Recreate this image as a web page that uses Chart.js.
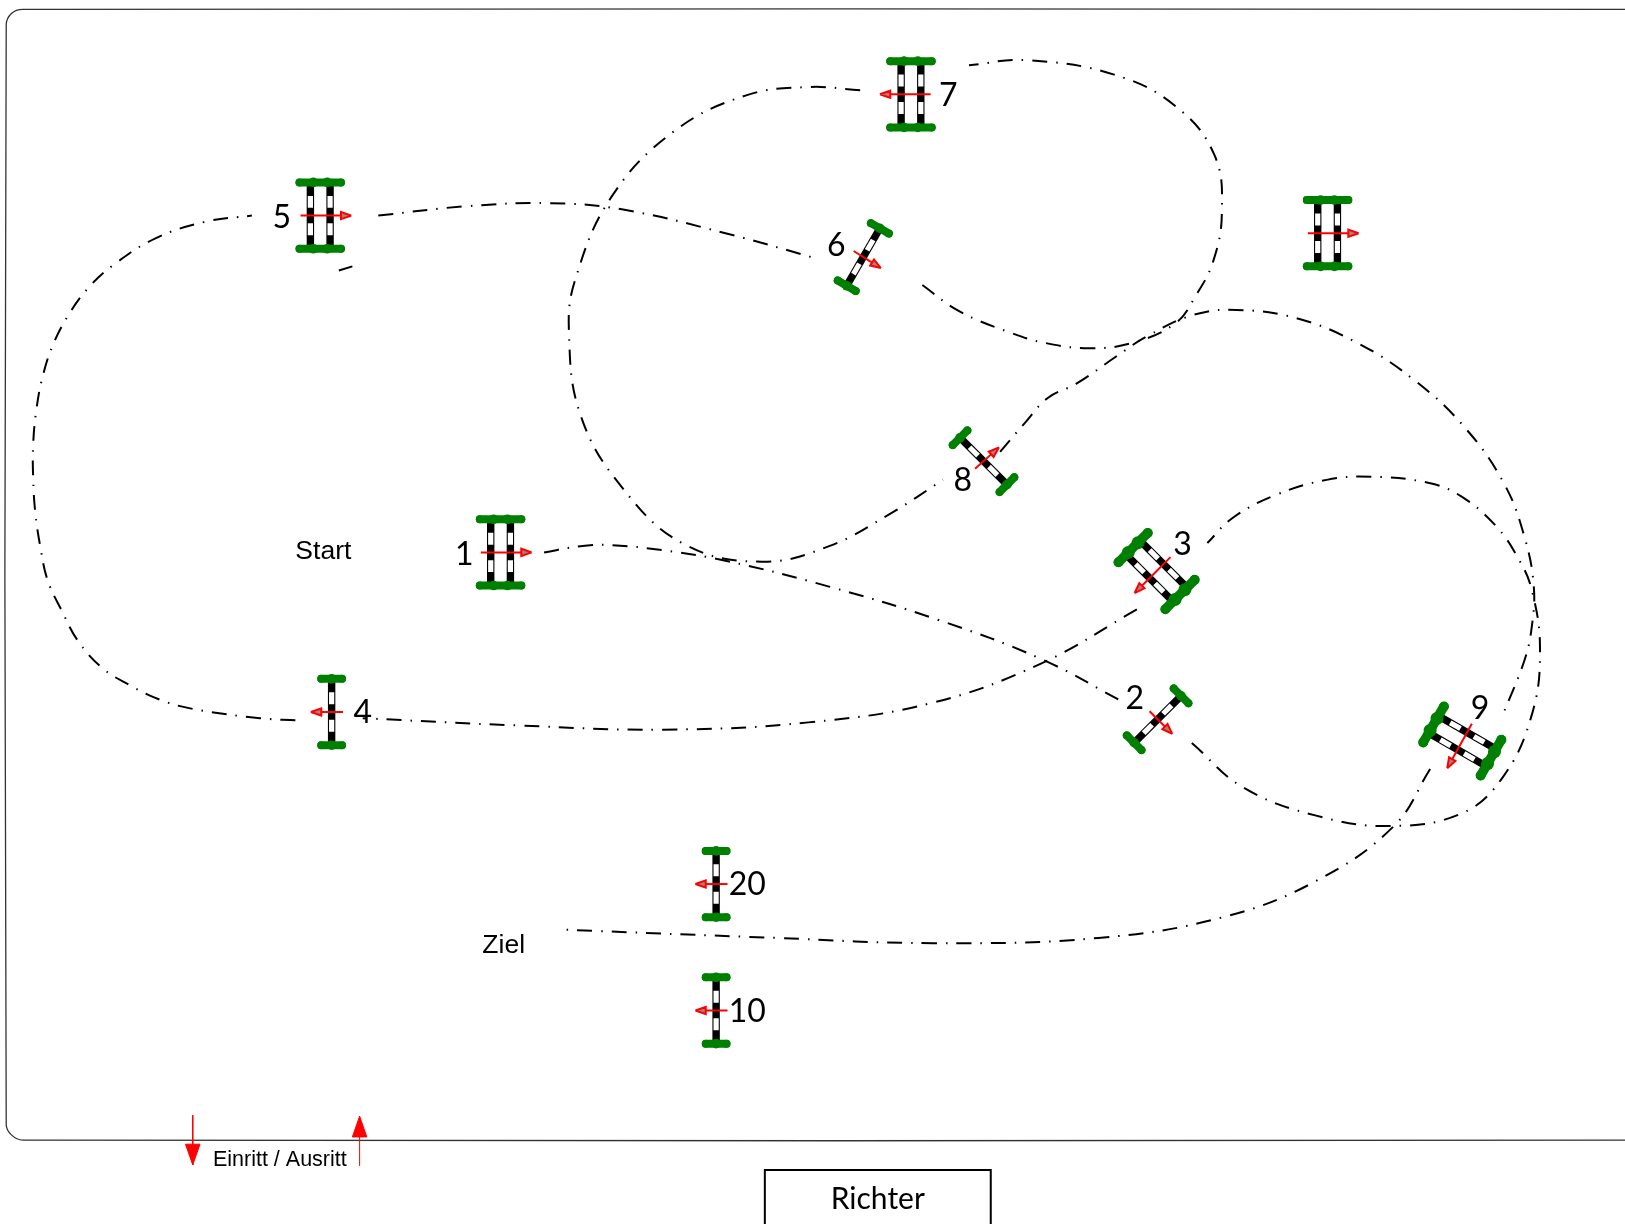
<!DOCTYPE html>
<html>
<head>
<meta charset="utf-8">
<title>Parcours</title>
<script src="https://cdn.jsdelivr.net/npm/chart.js@4"></script>
<style>
html, body { margin: 0; padding: 0; background: #fff; overflow: hidden; }
canvas { display: block; }
</style>
</head>
<body>
<canvas id="courseChart" width="1625" height="1224"></canvas>
<script>
// jumps
const jumpNames = ["1", "2", "3", "4", "5", "6", "7", "8", "9", "10", "20", ""];
const jumpX = [483, 1117, 1116, 320, 309, 833, 879, 949, 1411, 691, 691, 1281];
const jumpY = [533, 694, 551, 687, 208, 248, 91, 445, 715, 975, 853, 225];
const jumpRails = [2, 1, 2, 1, 2, 1, 2, 1, 2, 1, 1, 2];
const railAngle = [90, 135, 45, 90, 90, 120, 90, 45, 30, 90, 90, 90];
const arrowAngle = [0, 45, 135, 180, 0, 32, 180, -42, 119, 180, 180, 0];
const nameX = [448, 1095, 1141, 350, 272, 807, 915, 929, 1428, 721, 721];
const nameY = [535, 674, 526, 688, 210, 237, 92, 464, 684, 976, 854];

// route, one leg per jump
const leg1X = [525, 560, 590, 640, 700, 800, 905, 1005, 1085];
const leg1Y = [533, 527, 526, 531, 541, 566, 598, 636, 678];
const leg2X = [1150, 1200, 1270, 1340, 1410, 1450, 1478, 1486, 1478, 1464, 1443, 1410, 1379, 1323, 1280, 1230, 1189, 1165];
const leg2Y = [717, 760, 787, 797, 785, 750, 690, 627, 569, 537, 507, 479, 466, 460, 463, 478, 500, 524];
const leg3X = [1097, 1005, 900, 780, 640, 500, 350];
const leg3Y = [588, 640, 678, 697, 704, 700, 693];
const leg4X = [285, 251, 186, 154, 125, 98, 75, 60, 46, 39, 34, 32, 32, 35, 41, 51, 66, 85, 109, 150, 198, 243];
const leg4Y = [695, 693, 684, 675, 661, 644, 618, 590, 560, 528, 494, 461, 429, 396, 364, 333, 304, 278, 256, 230, 214, 208];
const leg5X = [365, 450, 530, 600, 700, 790];
const leg5Y = [208, 199, 196, 202, 225, 250];
const leg6X = [890, 925, 975, 1009, 1051, 1092, 1134, 1154, 1171, 1179, 1172, 1135, 1075, 990, 935];
const leg6Y = [275, 300, 321, 331, 336, 331, 312, 285, 251, 205, 150, 103, 72, 58, 63];
const leg7X = [830, 780, 720, 650, 590, 555, 549, 560, 600, 660, 735, 800, 860, 910];
const leg7Y = [87, 84, 92, 127, 190, 270, 320, 400, 470, 525, 542, 527, 495, 463];
const leg8X = [965, 989, 1011, 1039, 1077, 1106, 1151, 1193, 1251, 1310, 1365, 1413, 1451, 1471, 1480, 1478, 1471, 1450];
const leg8Y = [436, 408, 384, 370, 344, 325, 304, 299, 307, 331, 367, 412, 466, 518, 566, 605, 637, 690];
const leg9X = [1380, 1345, 1270, 1180, 1060, 900, 750, 543];
const leg9Y = [742, 797, 850, 885, 905, 910, 905, 897];
const strayX = [327, 340];
const strayY = [261, 257];

// arena outline and judge box
const frameX = [1600, 22, 11, 6, 6, 11, 22, 1600];
const frameY = [9, 9, 13, 24, 1085, 1095, 1100, 1100];
const judgeX = [738, 738, 956, 956];
const judgeY = [1190, 1129, 1129, 1190];

// gate arrows
const gateX = [186, 347];
const gateTailY = [1076, 1125];
const gateTipY = [1124, 1077];

// free text
const textLabels = ["Start", "Ziel", "Einritt / Ausritt", "Richter"];
const textX = [312, 486, 270, 847];
const textY = [532.5, 912, 1119, 1157];
const textFonts = ["26.5px 'Liberation Sans'", "26.5px 'Liberation Sans'", "21.5px 'Liberation Sans'", "30px Lato"];

const zip = (xs, ys) => xs.map((x, i) => ({ x: x, y: ys[i] }));
const rad = (deg) => (deg * Math.PI) / 180;

const datasets = [];

function addLine(points, color, width, order, extra) {
    datasets.push(Object.assign({
        data: points,
        showLine: true,
        borderColor: color,
        borderWidth: width,
        pointRadius: 0,
        order: order,
    }, extra));
}

// triangle with its tip on (x, y), pointing along angle
function arrowHead(x, y, angle, length, halfWidth) {
    const ux = Math.cos(rad(angle));
    const uy = Math.sin(rad(angle));
    const bx = x - ux * length;
    const by = y - uy * length;
    return [
        { x: x, y: y },
        { x: bx - uy * halfWidth, y: by + ux * halfWidth },
        { x: bx + uy * halfWidth, y: by - ux * halfWidth },
        { x: x, y: y },
    ];
}

function addJump(i) {
    const cx = jumpX[i];
    const cy = jumpY[i];
    const double = jumpRails[i] === 2;
    const ux = Math.cos(rad(railAngle[i]));
    const uy = Math.sin(rad(railAngle[i]));
    const along = (t, s) => ({ x: cx + ux * t - uy * s, y: cy + uy * t + ux * s });

    // rails with their white sections
    const offsets = double ? [-9.5, 9.5] : [0];
    offsets.forEach((s) => {
        addLine([along(-29, s), along(29, s)], "#000", 7.4, 6);
        addLine([along(-19, s), along(-7.5, s)], "#fff", 5.2, 5);
        addLine([along(7.5, s), along(19, s)], "#fff", 5.2, 5);
    });

    // green wings, a few overlapping blobs
    const reach = double ? 20 : 10;
    const big = railAngle[i] !== 90 && double;
    const endSize = big ? 5 : 4;
    const midSize = big ? 6.5 : 4.8;
    [-32, 32].forEach((t) => {
        const lumps = double
            ? [along(t, -reach), along(t, -reach / 3), along(t, reach / 3), along(t, reach)]
            : [along(t, -reach), along(t, 0), along(t, reach)];
        addLine(lumps, "#008000", big ? 9.5 : 8, 4, {
            borderCapStyle: "round",
            pointRadius: lumps.map((_, n) => (n === 0 || n === lumps.length - 1 ? endSize : midSize)),
            pointBackgroundColor: "#008000",
            pointBorderWidth: 0,
        });
    });

    // direction arrow
    const ax = Math.cos(rad(arrowAngle[i]));
    const ay = Math.sin(rad(arrowAngle[i]));
    const back = double ? 19 : 11;
    const tip = double ? 30 : 20;
    const tipX = cx + ax * tip;
    const tipY = cy + ay * tip;
    addLine([{ x: cx - ax * back, y: cy - ay * back }, { x: tipX - ax * 8, y: tipY - ay * 8 }], "#f00", 2, 3);
    addLine(arrowHead(tipX, tipY, arrowAngle[i], 10, 3.5), "#f00", 2, 2, {
        fill: "shape",
        backgroundColor: "#a08080",
    });
}

const dash = [15, 9, 1.5, 9];
[
    zip(leg1X, leg1Y), zip(leg2X, leg2Y), zip(leg3X, leg3Y),
    zip(leg4X, leg4Y), zip(leg5X, leg5Y), zip(leg6X, leg6Y),
    zip(leg7X, leg7Y), zip(leg8X, leg8Y), zip(leg9X, leg9Y),
].forEach((leg) => {
    addLine(leg, "#000", 2, 7, { borderDash: dash, tension: 0.4 });
});
addLine(zip(strayX, strayY), "#000", 2, 7);

addLine(zip(frameX, frameY), "#333", 1.3, 8, { tension: 0.35 });
addLine(zip(judgeX, judgeY), "#000", 2, 8);

jumpX.forEach((_, i) => addJump(i));

gateX.forEach((x, i) => {
    const angle = gateTipY[i] > gateTailY[i] ? 90 : -90;
    addLine([{ x: x, y: gateTailY[i] }, { x: x, y: gateTipY[i] }], "#f00", 1, 3);
    addLine(arrowHead(x, gateTipY[i], angle, 20, 7), "#f00", 1, 2, {
        fill: "shape",
        backgroundColor: "#f00",
    });
});

const courseLabels = {
    id: "courseLabels",
    afterDatasetsDraw(chart) {
        const ctx = chart.ctx;
        const xs = chart.scales.x;
        const ys = chart.scales.y;
        ctx.save();
        ctx.fillStyle = "#000";
        ctx.textAlign = "center";
        ctx.textBaseline = "middle";
        ctx.font = "32px Lato";
        jumpNames.forEach((name, i) => {
            if (name) {
                ctx.fillText(name, xs.getPixelForValue(nameX[i]), ys.getPixelForValue(nameY[i]));
            }
        });
        textLabels.forEach((label, i) => {
            ctx.font = textFonts[i];
            ctx.fillText(label, xs.getPixelForValue(textX[i]), ys.getPixelForValue(textY[i]));
        });
        ctx.restore();
    },
};

new Chart(document.getElementById("courseChart"), {
    type: "scatter",
    data: { datasets: datasets },
    plugins: [courseLabels],
    options: {
        responsive: false,
        animation: false,
        events: [],
        layout: { padding: 0, autoPadding: false },
        scales: {
            x: { type: "linear", display: false, min: 0, max: 1568 },
            y: { type: "linear", display: false, min: 0, max: 1181, reverse: true },
        },
        plugins: {
            legend: { display: false },
            tooltip: { enabled: false },
        },
    },
});
</script>
</body>
</html>
